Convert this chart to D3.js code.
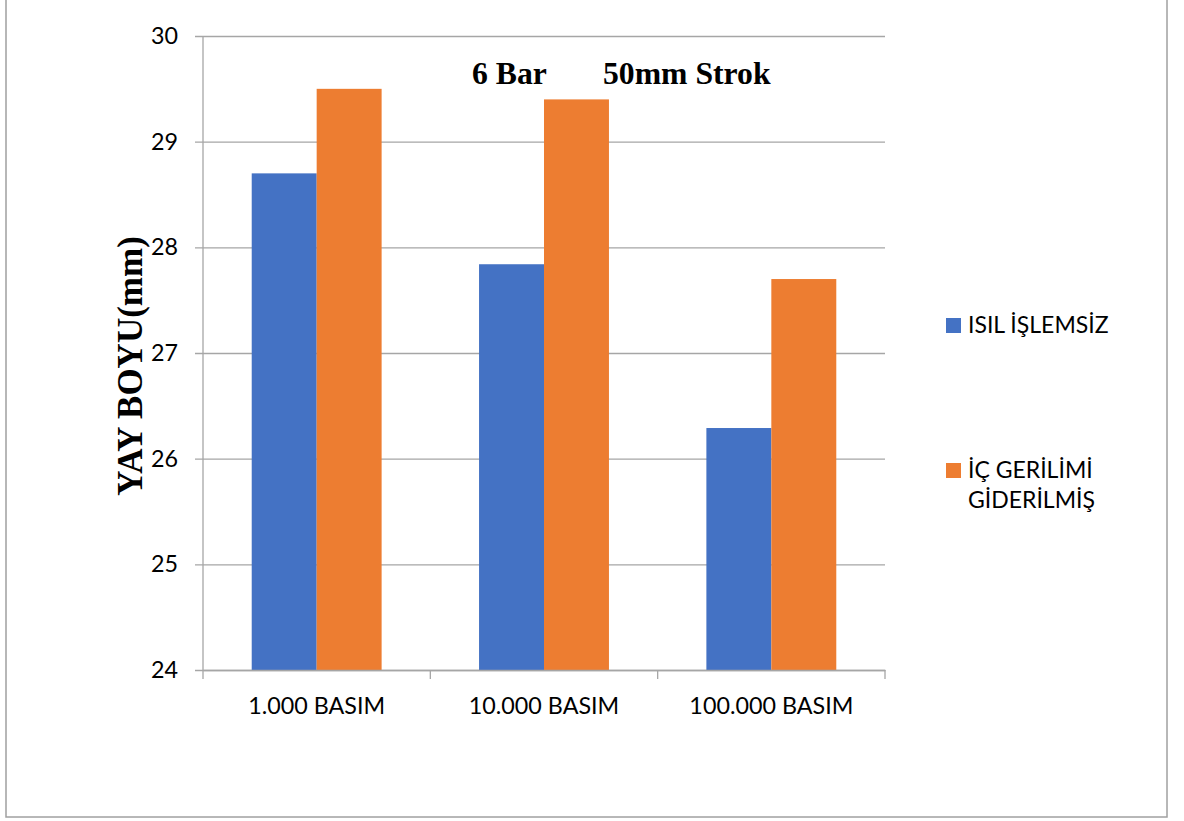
<!DOCTYPE html>
<html>
<head>
<meta charset="utf-8">
<script src="https://cdn.jsdelivr.net/npm/d3@7"></script>
<style>
  html, body { margin: 0; padding: 0; background: #ffffff; }
  svg { display: block; }
</style>
</head>
<body>
<svg id="chart" width="1184" height="821"></svg>
<script>
// Spring length after repeated presses, untreated vs. stress-relieved
const categories = ["1.000 BASIM", "10.000 BASIM", "100.000 BASIM"];
const seriesNames = ["ISIL İŞLEMSİZ", "İÇ GERİLİMİ GİDERİLMİŞ"];
const untreated = [28.7, 27.84, 26.29];
const stressRelieved = [29.5, 29.4, 27.7];
const yTicks = [24, 25, 26, 27, 28, 29, 30];
const colors = ["#4472C4", "#ED7D31"];

const svg = d3.select("#chart");
const plot = { left: 203, right: 885, top: 36, bottom: 670 };
const axisColor = "#a6a6a6";
const sansFont = "Lato, 'Open Sans', sans-serif";
const serifFont = "'Liberation Serif', 'Times New Roman', serif";

// outer frame
svg.append("rect")
  .attr("x", 6).attr("y", -4)
  .attr("width", 1161).attr("height", 821)
  .attr("fill", "#ffffff")
  .attr("stroke", "#a0a0a0")
  .attr("stroke-width", 1.5);

const x0 = d3.scaleBand().domain(categories).range([plot.left, plot.right]).paddingInner(0).paddingOuter(0);
const x1 = d3.scaleBand().domain([0, 1]).range([0, x0.bandwidth()]).paddingInner(0).paddingOuter(0.75);
const y = d3.scaleLinear().domain([24, 30]).range([plot.bottom, plot.top]);

// horizontal gridlines with short outer ticks
const yAxis = d3.axisLeft(y).tickValues(yTicks).tickSize(-(plot.right - plot.left)).tickSizeOuter(0).tickFormat(d3.format("d"));
const gy = svg.append("g").attr("transform", `translate(${plot.left},0)`).call(yAxis);
gy.select(".domain").remove();
gy.selectAll(".tick line").attr("stroke", axisColor).attr("stroke-width", 1.3).attr("x1", -8);
gy.selectAll(".tick text")
  .attr("x", -25)
  .attr("fill", "#000")
  .style("font-family", sansFont)
  .style("font-size", "23.3px");

// vertical axis line
svg.append("line")
  .attr("x1", plot.left).attr("x2", plot.left)
  .attr("y1", plot.top).attr("y2", plot.bottom)
  .attr("stroke", axisColor).attr("stroke-width", 1.3);

// bars
const rows = categories.map((c, i) => ({ cat: c, vals: [untreated[i], stressRelieved[i]] }));
const groups = svg.append("g").selectAll("g").data(rows).join("g")
  .attr("transform", d => `translate(${x0(d.cat)},0)`);
groups.selectAll("rect").data(d => d.vals.map((v, k) => ({ v, k }))).join("rect")
  .attr("x", d => x1(d.k))
  .attr("width", x1.bandwidth())
  .attr("y", d => y(d.v))
  .attr("height", d => y(24) - y(d.v))
  .attr("fill", d => colors[d.k]);

// category axis
const xAxis = d3.axisBottom(x0).tickSize(0).tickSizeOuter(0).tickPadding(0);
const gx = svg.append("g").attr("transform", `translate(0,${plot.bottom})`).call(xAxis);
gx.select(".domain").attr("stroke", axisColor).attr("stroke-width", 1.3);
gx.selectAll(".tick text")
  .attr("y", 44)
  .attr("dy", 0)
  .attr("fill", "#000")
  .style("font-family", sansFont)
  .style("font-size", "23.3px");
// tick marks between categories
const bounds = categories.map(c => x0(c)).concat([x0(categories[categories.length - 1]) + x0.bandwidth()]);
gx.selectAll(".sep").data(bounds).join("line").attr("class", "sep")
  .attr("x1", d => d).attr("x2", d => d)
  .attr("y1", 0).attr("y2", 9)
  .attr("stroke", axisColor).attr("stroke-width", 1.3);

// chart title
const titleStyle = sel => sel
  .style("font-family", serifFont).style("font-weight", "bold").style("font-size", "31.7px")
  .attr("fill", "#000");
svg.append("text").attr("x", 472).attr("y", 84).call(titleStyle).text("6 Bar");
svg.append("text").attr("x", 603).attr("y", 84).call(titleStyle).text("50mm Strok");

// y axis title
svg.append("text")
  .attr("transform", "translate(142,366) rotate(-90)")
  .attr("text-anchor", "middle")
  .style("font-family", serifFont).style("font-weight", "bold").style("font-size", "35px")
  .attr("fill", "#000")
  .text("YAY BOYU(mm)");

// legend
const legend = [
  { lines: ["ISIL İŞLEMSİZ"], baseline: 333, color: colors[0] },
  { lines: ["İÇ GERİLİMİ", "GİDERİLMİŞ"], baseline: 478, color: colors[1] }
];
const lg = svg.append("g").selectAll("g").data(legend).join("g");
lg.append("rect")
  .attr("x", 946).attr("y", d => d.baseline - 15)
  .attr("width", 15).attr("height", 15)
  .attr("fill", d => d.color);
lg.append("text")
  .attr("x", 968).attr("y", d => d.baseline)
  .attr("fill", "#000")
  .style("font-family", sansFont).style("font-size", "23px")
  .selectAll("tspan").data(d => d.lines).join("tspan")
  .attr("x", 968).attr("dy", (d, i) => i === 0 ? 0 : 30)
  .text(d => d);
</script>
</body>
</html>
